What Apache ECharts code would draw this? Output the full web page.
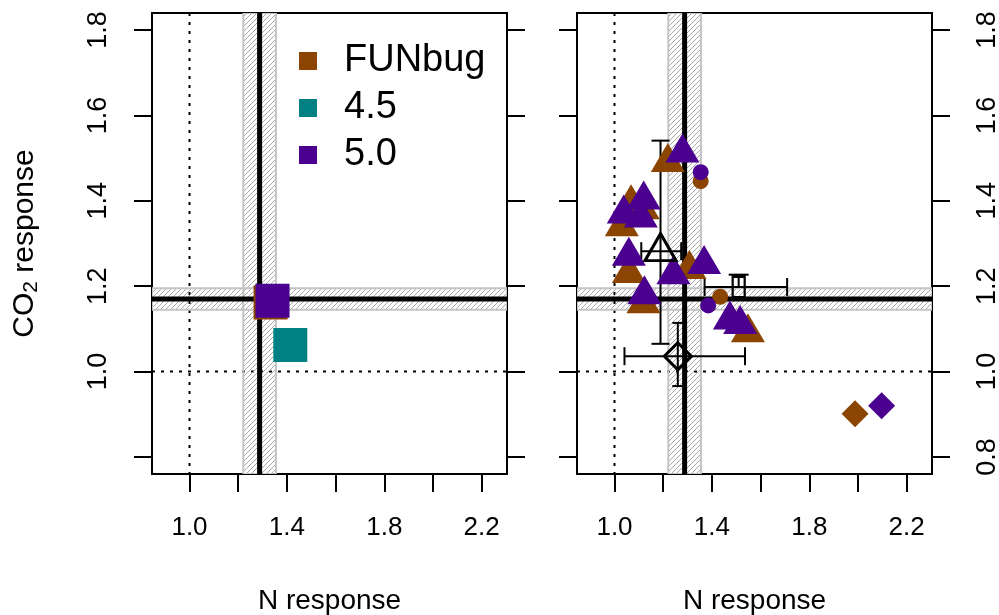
<!DOCTYPE html>
<html>
<head>
<meta charset="UTF-8">
<title>N and CO2 response</title>
<script src="https://cdn.jsdelivr.net/npm/echarts@6/dist/echarts.min.js"></script>
<style>
  html, body { margin: 0; padding: 0; background: #fff; }
  #main { width: 999px; height: 615px; }
</style>
</head>
<body>
<div id="main"></div>
<script>
  // axis ranges and ticks
  const xRange = [0.846, 2.304];
  const yRange = [0.76, 1.84];
  const xTicks = [1.0, 1.2, 1.4, 1.6, 1.8, 2.0, 2.2];
  const xTickLabels = [1.0, 1.4, 1.8, 2.2];
  const yTicks = [0.8, 1.0, 1.2, 1.4, 1.6, 1.8];
  const yTickLabelsLeft = [1.0, 1.2, 1.4, 1.6, 1.8];
  const yTickLabelsRight = [0.8, 1.0, 1.2, 1.4, 1.6, 1.8];

  // reference lines: observed response and its range
  const nRef = 1.288;
  const nBand = [1.221, 1.355];
  const co2Ref = 1.170;
  const co2Band = [1.145, 1.195];
  const noEffect = 1.0;

  // left panel: model means
  const funbugMean = [[1.333, 1.162]];
  const v45Mean = [[1.414, 1.062]];
  const v50Mean = [[1.341, 1.166]];

  // right panel: individual sites
  const funbugTri = [[1.219, 1.490], [1.068, 1.393], [1.030, 1.339], [1.116, 1.379],
                     [1.059, 1.230], [1.119, 1.159], [1.308, 1.239], [1.548, 1.091]];
  const funbugCirc = [[1.354, 1.446], [1.434, 1.175]];
  const funbugDiam = [[1.988, 0.901]];
  const v50Tri = [[1.279, 1.512], [1.120, 1.402], [1.038, 1.369], [1.108, 1.360],
                  [1.059, 1.270], [1.123, 1.180], [1.242, 1.227], [1.368, 1.251],
                  [1.474, 1.121], [1.516, 1.110]];
  const v50Circ = [[1.354, 1.467], [1.385, 1.155]];
  const v50Diam = [[2.097, 0.920]];

  // observations: x, y, xlo, xhi, ylo, yhi
  const obsTri = [[1.189, 1.282, 1.110, 1.274, 1.065, 1.541]];
  const obsDiam = [[1.260, 1.036, 1.041, 1.536, 0.966, 1.114]];
  const obsSquare = [[1.510, 1.198, 1.370, 1.709, 1.198, 1.227]];

  const BROWN = '#8B4500';
  const TEAL = '#008080';
  const PURPLE = '#4B0090';
  const FONT = 'Liberation Sans, Arial, sans-serif';

  // diagonal hatching like R's density shading
  const hatch = document.createElement('canvas');
  hatch.width = 5; hatch.height = 5;
  (function () {
    const c = hatch.getContext('2d');
    c.strokeStyle = '#a8a8a8';
    c.lineWidth = 1;
    c.beginPath();
    c.moveTo(-1, 6); c.lineTo(6, -1);
    c.moveTo(-1, 1); c.lineTo(1, -1);
    c.moveTo(4, 6); c.lineTo(6, 4);
    c.stroke();
  })();

  function refLayer(params, api) {
    const cs = params.coordSys;
    const x0 = cs.x, x1 = cs.x + cs.width, y0 = cs.y, y1 = cs.y + cs.height;
    const px = v => api.coord([v, yRange[0]])[0];
    const py = v => api.coord([xRange[0], v])[1];
    const dotted = { stroke: '#000', lineWidth: 2, lineDash: [3, 6] };
    const band = { fill: { image: hatch, repeat: 'repeat' }, stroke: '#c4c4c4', lineWidth: 2 };
    const thick = { stroke: '#000', lineWidth: 5 };
    return {
      type: 'group',
      children: [
        { type: 'line', shape: { x1: px(noEffect), y1: y0, x2: px(noEffect), y2: y1 }, style: dotted },
        { type: 'line', shape: { x1: x0, y1: py(noEffect), x2: x1, y2: py(noEffect) }, style: dotted },
        { type: 'rect', shape: { x: px(nBand[0]), y: y0, width: px(nBand[1]) - px(nBand[0]), height: y1 - y0 }, style: band },
        { type: 'rect', shape: { x: x0, y: py(co2Band[1]), width: x1 - x0, height: py(co2Band[0]) - py(co2Band[1]) }, style: band },
        { type: 'line', shape: { x1: px(nRef), y1: y0, x2: px(nRef), y2: y1 }, style: thick },
        { type: 'line', shape: { x1: x0, y1: py(co2Ref), x2: x1, y2: py(co2Ref) }, style: thick }
      ]
    };
  }

  function errorBars(capH, capV) {
    return function (params, api) {
      const c = api.coord([api.value(0), api.value(1)]);
      const xl = api.coord([api.value(2), api.value(1)])[0];
      const xh = api.coord([api.value(3), api.value(1)])[0];
      const yl = api.coord([api.value(0), api.value(4)])[1];
      const yh = api.coord([api.value(0), api.value(5)])[1];
      const st = { stroke: '#000', lineWidth: 2 };
      const ln = (a, b, d, e) => ({ type: 'line', shape: { x1: a, y1: b, x2: d, y2: e }, style: st });
      const kids = [
        ln(xl, c[1], xh, c[1]),
        ln(xl, c[1] - capH / 2, xl, c[1] + capH / 2),
        ln(xh, c[1] - capH / 2, xh, c[1] + capH / 2),
        ln(c[0], yl, c[0], yh),
        ln(c[0] - capV / 2, yh, c[0] + capV / 2, yh)
      ];
      if (Math.abs(yl - c[1]) > 1) kids.push(ln(c[0] - capV / 2, yl, c[0] + capV / 2, yl));
      return { type: 'group', children: kids };
    };
  }

  const fmt = v => Number(v).toFixed(1);

  function xAx(gi) {
    return {
      gridIndex: gi, type: 'value', min: xRange[0], max: xRange[1],
      name: 'N response', nameLocation: 'middle', nameGap: 113,
      nameTextStyle: { fontSize: 28, color: '#000', fontFamily: FONT },
      axisLine: { show: false }, splitLine: { show: false },
      axisTick: { customValues: xTicks, length: 18, lineStyle: { color: '#000', width: 2 } },
      axisLabel: { customValues: xTickLabels, formatter: fmt, margin: 41, fontSize: 26, color: '#000', fontFamily: FONT }
    };
  }

  function yAx(gi, pos, labels, margin) {
    return {
      gridIndex: gi, type: 'value', position: pos, min: yRange[0], max: yRange[1],
      axisLine: { show: false }, splitLine: { show: false },
      axisTick: { customValues: yTicks, length: 18, lineStyle: { color: '#000', width: 2 } },
      axisLabel: labels
        ? { customValues: labels, formatter: fmt, rotate: 90, margin: margin, fontSize: 27, color: '#000', fontFamily: FONT }
        : { show: false }
    };
  }

  function pts(name, data, color, sym, size, xi, yi, extra) {
    return Object.assign({
      type: 'scatter', name: name, data: data, xAxisIndex: xi, yAxisIndex: yi,
      symbol: sym, symbolSize: size, itemStyle: { color: color, opacity: 1 },
      emphasis: { disabled: true }, silent: true
    }, extra || {});
  }

  function openSym(data, sym, size, extra) {
    return Object.assign({
      type: 'scatter', data: data.map(d => [d[0], d[1]]), xAxisIndex: 1, yAxisIndex: 3,
      symbol: sym, symbolSize: size,
      itemStyle: { color: 'rgba(0,0,0,0)', borderColor: '#000', borderWidth: 3, opacity: 1 },
      emphasis: { disabled: true }, silent: true
    }, extra || {});
  }

  const chart = echarts.init(document.getElementById('main'), null, { renderer: 'canvas' });

  const yName = {
    name: '{a|CO}{s|2}{a| response}', nameLocation: 'middle', nameGap: 110,
    nameTextStyle: {
      color: '#000', fontFamily: FONT,
      rich: {
        a: { fontSize: 30, color: '#000', fontFamily: FONT },
        s: { fontSize: 21, color: '#000', fontFamily: FONT, padding: [13, 0, 0, 0] }
      }
    }
  };

  const gridBase = { top: 13, width: 355, height: 461, show: true, borderColor: '#000', borderWidth: 2,
                     backgroundColor: 'transparent', outerBoundsMode: 'none', containLabel: false };

  const option = {
    animation: false,
    backgroundColor: '#fff',
    grid: [
      Object.assign({ left: 152 }, gridBase),
      Object.assign({ left: 577 }, gridBase)
    ],
    xAxis: [xAx(0), xAx(1)],
    yAxis: [
      Object.assign(yAx(0, 'left', yTickLabelsLeft, 40), yName),
      yAx(0, 'right', null),
      yAx(1, 'left', null),
      yAx(1, 'right', yTickLabelsRight, 42)
    ],
    legend: {
      left: 294, top: 37, orient: 'vertical', itemGap: 9,
      itemWidth: 18, itemHeight: 18, icon: 'rect',
      selectedMode: false,
      textStyle: { fontSize: 38, color: '#000', fontFamily: FONT, padding: [0, 0, 0, 22] },
      data: ['FUNbug', '4.5', '5.0']
    },
    series: [
      { type: 'custom', xAxisIndex: 0, yAxisIndex: 0, data: [[0, 0]], renderItem: refLayer, silent: true, clip: true },
      { type: 'custom', xAxisIndex: 1, yAxisIndex: 3, data: [[0, 0]], renderItem: refLayer, silent: true, clip: true },

      pts('FUNbug', funbugMean, BROWN, 'rect', 34, 0, 0),
      pts('4.5', v45Mean, TEAL, 'rect', 34, 0, 0),
      pts('5.0', v50Mean, PURPLE, 'rect', 34, 0, 0),

      pts('FUNbug', funbugTri, BROWN, 'triangle', [34, 29], 1, 3, { symbolOffset: [0, -5] }),
      pts('FUNbug', funbugCirc, BROWN, 'circle', 16, 1, 3),
      pts('FUNbug', funbugDiam, BROWN, 'diamond', 27, 1, 3),
      pts('5.0', v50Tri, PURPLE, 'triangle', [34, 29], 1, 3, { symbolOffset: [0, -5] }),
      pts('5.0', v50Circ, PURPLE, 'circle', 16, 1, 3),
      pts('5.0', v50Diam, PURPLE, 'diamond', 27, 1, 3),

      { type: 'custom', xAxisIndex: 1, yAxisIndex: 3, data: obsTri, renderItem: errorBars(18, 18), silent: true },
      { type: 'custom', xAxisIndex: 1, yAxisIndex: 3, data: obsDiam, renderItem: errorBars(18, 11), silent: true },
      { type: 'custom', xAxisIndex: 1, yAxisIndex: 3, data: obsSquare, renderItem: errorBars(18, 20), silent: true },
      openSym(obsTri, 'triangle', [31, 27], { symbolOffset: [0, -4] }),
      openSym(obsDiam, 'diamond', 27),
      openSym(obsSquare, 'rect', [12, 22])
    ]
  };

  chart.setOption(option);
</script>
</body>
</html>
